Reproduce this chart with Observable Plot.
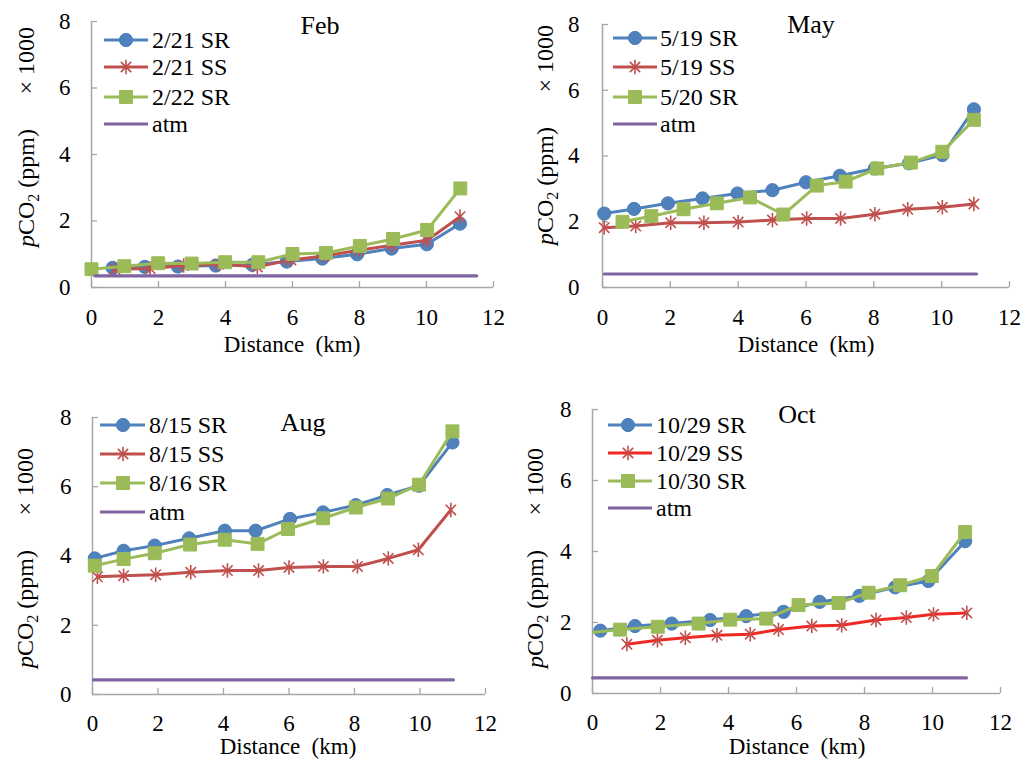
<!DOCTYPE html>
<html>
<head>
<meta charset="utf-8">
<script src="https://cdn.jsdelivr.net/npm/d3@7"></script>
<script src="https://cdn.jsdelivr.net/npm/@observablehq/plot@0.6"></script>
<style>
  html, body { margin: 0; padding: 0; background: #fff; }
  #wrap { position: relative; width: 1033px; height: 759px; background: #fff; overflow: hidden; }
  .panel { position: absolute; }
  .panel svg { overflow: visible; }
</style>
</head>
<body>
<div id="wrap"></div>
<script>
// ---------- data (pCO2 x 1000 ppm vs distance km) ----------
const xTicks = [0, 2, 4, 6, 8, 10, 12];
const yTicks = [0, 2, 4, 6, 8];

// Feb
const febBlueX  = [0.63, 1.59, 2.58, 3.71, 4.8, 5.83, 6.89, 7.93, 8.96, 10.01, 11.0];
const febBlueY  = [0.59, 0.62, 0.63, 0.66, 0.68, 0.78, 0.87, 1.00, 1.17, 1.30, 1.92];
const febRedX   = [0.7, 1.75, 2.75, 3.8, 4.95, 5.95, 6.95, 7.98, 8.97, 10.02, 11.0];
const febRedY   = [0.55, 0.57, 0.66, 0.70, 0.62, 0.83, 0.95, 1.12, 1.27, 1.42, 2.13];
const febGreenX = [0, 0.98, 1.99, 2.99, 3.99, 4.98, 6.0, 7.0, 8.01, 9.0, 10.02, 11.01];
const febGreenY = [0.55, 0.64, 0.73, 0.72, 0.76, 0.76, 1.01, 1.04, 1.25, 1.46, 1.73, 2.98];
const febAtmX   = [0.1, 11.5];
const febAtmY   = [0.35, 0.35];

// May
const mayBlueX  = [0.05, 0.93, 1.93, 2.95, 3.98, 5.01, 6.0, 7.0, 8.03, 9.04, 10.02, 10.95];
const mayBlueY  = [2.25, 2.39, 2.56, 2.71, 2.86, 2.96, 3.2, 3.4, 3.62, 3.78, 4.03, 5.42];
const mayRedX   = [0.05, 0.98, 2.01, 2.99, 4.0, 5.01, 6.02, 7.02, 8.03, 9.0, 10.02, 10.95];
const mayRedY   = [1.82, 1.87, 1.97, 1.97, 1.99, 2.05, 2.1, 2.1, 2.23, 2.38, 2.44, 2.54];
const mayGreenX = [0.59, 1.44, 2.39, 3.37, 4.35, 5.33, 6.32, 7.17, 8.1, 9.09, 10.02, 10.95];
const mayGreenY = [2.0, 2.17, 2.38, 2.56, 2.74, 2.22, 3.1, 3.22, 3.62, 3.8, 4.13, 5.1];
const mayAtmX   = [0.05, 11.03];
const mayAtmY   = [0.41, 0.41];

// Aug
const augBlueX  = [0.07, 0.95, 1.9, 2.95, 4.04, 4.98, 6.03, 7.04, 8.04, 9.0, 9.97, 10.99];
const augBlueY  = [3.93, 4.15, 4.3, 4.51, 4.73, 4.73, 5.07, 5.26, 5.47, 5.76, 6.03, 7.28];
const augRedX   = [0.15, 0.95, 1.93, 3.0, 4.12, 5.07, 6.0, 7.05, 8.09, 9.03, 9.95, 10.94];
const augRedY   = [3.4, 3.43, 3.46, 3.53, 3.58, 3.58, 3.67, 3.7, 3.7, 3.93, 4.18, 5.33];
const augGreenX = [0.07, 0.95, 1.9, 2.98, 4.04, 5.04, 5.97, 7.04, 8.04, 9.02, 9.97, 10.99];
const augGreenY = [3.72, 3.91, 4.08, 4.33, 4.47, 4.35, 4.78, 5.09, 5.4, 5.66, 6.06, 7.6];
const augAtmX   = [0.03, 11.02];
const augAtmY   = [0.42, 0.42];

// Oct
const octBlueX  = [0.23, 1.25, 2.33, 3.46, 4.52, 5.62, 6.68, 7.85, 8.9, 9.88, 10.96];
const octBlueY  = [1.77, 1.9, 1.97, 2.07, 2.18, 2.3, 2.58, 2.75, 2.99, 3.17, 4.29];
const octRedX   = [1.01, 1.91, 2.73, 3.66, 4.64, 5.47, 6.45, 7.33, 8.34, 9.23, 10.03, 11.01];
const octRedY   = [1.39, 1.5, 1.57, 1.64, 1.67, 1.8, 1.9, 1.92, 2.07, 2.14, 2.23, 2.27];
const octGreenX = [-0.3, 0.81, 1.92, 3.12, 4.05, 5.11, 6.06, 7.24, 8.12, 9.05, 9.98, 10.96];
const octGreenY = [1.69, 1.8, 1.88, 1.97, 2.08, 2.11, 2.49, 2.55, 2.84, 3.05, 3.31, 4.55];
const octAtmX   = [0, 11.0];
const octAtmY   = [0.44, 0.44];

const monthNames = ["Feb", "May", "Aug", "Oct"];
const legendNames = [
  ["2/21 SR", "2/21 SS", "2/22 SR", "atm"],
  ["5/19 SR", "5/19 SS", "5/20 SR", "atm"],
  ["8/15 SR", "8/15 SS", "8/16 SR", "atm"],
  ["10/29 SR", "10/29 SS", "10/30 SR", "atm"]
];

// ---------- styles ----------
const BLUE = "#4f81bd", RED = "#c0504d", GREEN = "#9bbb59", PURPLE = "#8064a2";
const AXIS = "#a6a6a6";
const FONT = "'Liberation Serif', 'Times New Roman', serif";

const excelStar = {
  draw(ctx, size) {
    const r = Math.sqrt(size / Math.PI);
    const d = r * 0.72;
    ctx.moveTo(0, -r); ctx.lineTo(0, r);
    ctx.moveTo(-d, -d); ctx.lineTo(d, d);
    ctx.moveTo(-d, d); ctx.lineTo(d, -d);
  }
};

const toRows = (xs, ys) => xs.map((x, i) => ({x, y: ys[i]}));

const panels = [
  {left: 0, top: 0, ml: 91, mr: 23, mt: 21, mb: 92, yPad: 21, xPad: 21,
   series: [[febBlueX, febBlueY], [febRedX, febRedY], [febGreenX, febGreenY], [febAtmX, febAtmY]],
   redLine: RED,
   legend: {x1: 104, x2: 148, xm: 126, xt: 152, rows: [40, 67, 97, 124]},
   title: {x: 320, y: 34}, ylab: {x: 34, y0: 247, y1: 27}, xlab: {x: 292, y: 352}},
  {left: 516, top: 0, ml: 86, mr: 23, mt: 24, mb: 92, yPad: 23, xPad: 21,
   series: [[mayBlueX, mayBlueY], [mayRedX, mayRedY], [mayGreenX, mayGreenY], [mayAtmX, mayAtmY]],
   redLine: RED,
   legend: {x1: 97, x2: 141, xm: 119, xt: 144, rows: [38, 67, 97, 124]},
   title: {x: 295, y: 33}, ylab: {x: 37, y0: 245, y1: 25}, xlab: {x: 290, y: 352}},
  {left: 0, top: 380, ml: 92, mr: 31, mt: 37, mb: 65, yPad: 21, xPad: 20,
   series: [[augBlueX, augBlueY], [augRedX, augRedY], [augGreenX, augGreenY], [augAtmX, augAtmY]],
   redLine: RED,
   legend: {x1: 100, x2: 145, xm: 123, xt: 149, rows: [45, 74, 103, 132]},
   title: {x: 303, y: 51}, ylab: {x: 33, y0: 288, y1: 68}, xlab: {x: 288, y: 374}},
  {left: 516, top: 380, ml: 76, mr: 32, mt: 29, mb: 66, yPad: 21, xPad: 20,
   series: [[octBlueX, octBlueY], [octRedX, octRedY], [octGreenX, octGreenY], [octAtmX, octAtmY]],
   redLine: "#ee2a24",
   legend: {x1: 92, x2: 136, xm: 112, xt: 140, rows: [45, 73, 101, 128]},
   title: {x: 281, y: 43}, ylab: {x: 27, y0: 288, y1: 68}, xlab: {x: 281, y: 374}}
];

const wrap = document.getElementById("wrap");

panels.forEach((p, k) => {
  const [b, r, g, a] = p.series.map(([xs, ys]) => toRows(xs, ys));
  const vis = d => d.x >= 0;
  const chart = Plot.plot({
    width: 516, height: 379,
    marginLeft: p.ml, marginRight: p.mr, marginTop: p.mt, marginBottom: p.mb,
    x: {domain: [0, 12], ticks: xTicks},
    y: {domain: [0, 8], ticks: yTicks},
    style: `font-family: ${FONT}; font-size: 23px; color: #000; background: #fff; overflow: visible;`,
    marks: [
      Plot.ruleY([0], {stroke: AXIS, strokeWidth: 1.5}),
      Plot.ruleX([0], {stroke: AXIS, strokeWidth: 1.5}),
      Plot.axisX({ticks: xTicks, tickSize: -6, stroke: AXIS, strokeWidth: 1.3, tickFormat: () => "", label: null}),
      Plot.axisY({ticks: yTicks, tickSize: -6, stroke: AXIS, strokeWidth: 1.3, tickFormat: () => "", label: null}),
      Plot.axisX({ticks: xTicks, tickSize: 0, tickPadding: p.xPad, fill: "#000", fontFamily: FONT, fontSize: 23, label: null}),
      Plot.axisY({ticks: yTicks, tickSize: 0, tickPadding: p.yPad, fill: "#000", fontFamily: FONT, fontSize: 23, label: null}),
      Plot.line(b, {x: "x", y: "y", stroke: BLUE, strokeWidth: 3, clip: true}),
      Plot.dot(b.filter(vis), {x: "x", y: "y", symbol: "circle", r: 6.6, fill: BLUE, stroke: "#4a7ebb", strokeWidth: 1}),
      Plot.line(r, {x: "x", y: "y", stroke: p.redLine, strokeWidth: 3, clip: true}),
      Plot.dot(r.filter(vis), {x: "x", y: "y", symbol: excelStar, r: 7.2, fill: "none", stroke: RED, strokeWidth: 1.6}),
      Plot.line(g, {x: "x", y: "y", stroke: GREEN, strokeWidth: 3, clip: true}),
      Plot.dot(g.filter(vis), {x: "x", y: "y", symbol: "square", r: 7.3, fill: GREEN, stroke: GREEN, strokeWidth: 1}),
      Plot.line(a, {x: "x", y: "y", stroke: PURPLE, strokeWidth: 3.2})
    ]
  });

  const svg = d3.select(chart);
  const txt = (sel) => sel.attr("font-family", FONT).attr("fill", "#000");

  // title
  txt(svg.append("text")).attr("x", p.title.x).attr("y", p.title.y)
    .attr("text-anchor", "middle").attr("font-size", 26).text(monthNames[k]);

  // x label
  txt(svg.append("text")).attr("x", p.xlab.x).attr("y", p.xlab.y)
    .attr("text-anchor", "middle").attr("font-size", 23)
    .style("white-space", "pre").text("Distance  (km)");

  // y label (rotated)
  const yl = txt(svg.append("text"))
    .attr("transform", `translate(${p.ylab.x},${p.ylab.y0}) rotate(-90)`)
    .attr("text-anchor", "start").attr("font-size", 24);
  yl.append("tspan").attr("font-style", "italic").text("p");
  yl.append("tspan").text("CO");
  yl.append("tspan").attr("font-size", 16).attr("dy", 5).text("2");
  yl.append("tspan").attr("dy", -5).text("\u00a0(ppm)");
  txt(svg.append("text"))
    .attr("transform", `translate(${p.ylab.x},${p.ylab.y1}) rotate(-90)`)
    .attr("text-anchor", "end").attr("font-size", 24)
    .text("\u00d7 1000");

  // legend
  const L = p.legend;
  const colors = [BLUE, p.redLine, GREEN, PURPLE];
  const lg = svg.append("g");
  legendNames[k].forEach((name, i) => {
    const y = L.rows[i];
    lg.append("line").attr("x1", L.x1).attr("x2", L.x2).attr("y1", y).attr("y2", y)
      .attr("stroke", colors[i]).attr("stroke-width", 3);
    if (i === 0) {
      lg.append("path").attr("transform", `translate(${L.xm},${y})`)
        .attr("d", d3.symbol(d3.symbolCircle, Math.PI * 6.6 * 6.6)())
        .attr("fill", BLUE).attr("stroke", "#4a7ebb");
    } else if (i === 1) {
      lg.append("path").attr("transform", `translate(${L.xm},${y})`)
        .attr("d", d3.symbol(excelStar, Math.PI * 7.2 * 7.2)())
        .attr("fill", "none").attr("stroke", RED).attr("stroke-width", 1.6);
    } else if (i === 2) {
      lg.append("path").attr("transform", `translate(${L.xm},${y})`)
        .attr("d", d3.symbol(d3.symbolSquare, Math.PI * 7.3 * 7.3)())
        .attr("fill", GREEN).attr("stroke", GREEN);
    }
    txt(lg.append("text")).attr("x", L.xt).attr("y", y).attr("dy", "0.35em")
      .attr("text-anchor", "start").attr("font-size", 24).text(name);
  });

  const div = document.createElement("div");
  div.className = "panel";
  div.style.left = p.left + "px";
  div.style.top = p.top + "px";
  div.appendChild(chart);
  wrap.appendChild(div);
});
</script>
</body>
</html>
